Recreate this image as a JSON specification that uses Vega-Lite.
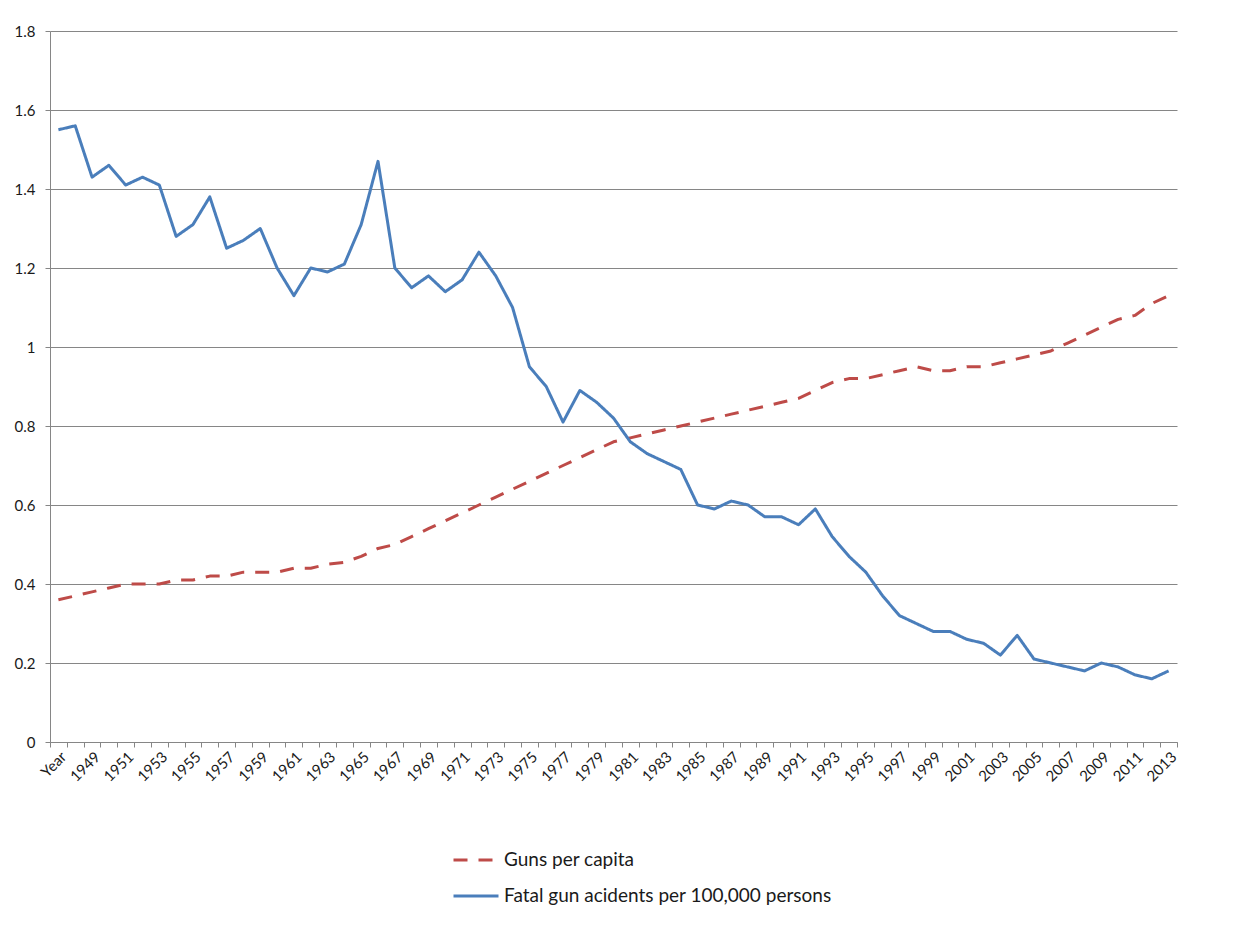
{
  "$schema": "https://vega.github.io/schema/vega-lite/v6.json",
  "autosize": "none",
  "width": 1127,
  "height": 711,
  "padding": {"left": 50, "top": 31, "right": 62, "bottom": 193},
  "background": "white",
  "config": {
    "view": {"stroke": null},
    "font": "Lato",
    "axis": {"labelFont": "Lato", "labelColor": "#1a1a1a"},
    "legend": {"labelFont": "Lato"}
  },
  "data": {
    "values": [
      {"year": "Year", "guns": 0.36, "fatal": 1.55},
      {"year": "1948", "guns": 0.37, "fatal": 1.56},
      {"year": "1949", "guns": 0.38, "fatal": 1.43},
      {"year": "1950", "guns": 0.39, "fatal": 1.46},
      {"year": "1951", "guns": 0.40, "fatal": 1.41},
      {"year": "1952", "guns": 0.40, "fatal": 1.43},
      {"year": "1953", "guns": 0.40, "fatal": 1.41},
      {"year": "1954", "guns": 0.41, "fatal": 1.28},
      {"year": "1955", "guns": 0.41, "fatal": 1.31},
      {"year": "1956", "guns": 0.42, "fatal": 1.38},
      {"year": "1957", "guns": 0.42, "fatal": 1.25},
      {"year": "1958", "guns": 0.43, "fatal": 1.27},
      {"year": "1959", "guns": 0.43, "fatal": 1.30},
      {"year": "1960", "guns": 0.43, "fatal": 1.20},
      {"year": "1961", "guns": 0.44, "fatal": 1.13},
      {"year": "1962", "guns": 0.44, "fatal": 1.20},
      {"year": "1963", "guns": 0.45, "fatal": 1.19},
      {"year": "1964", "guns": 0.455, "fatal": 1.21},
      {"year": "1965", "guns": 0.47, "fatal": 1.31},
      {"year": "1966", "guns": 0.49, "fatal": 1.47},
      {"year": "1967", "guns": 0.50, "fatal": 1.20},
      {"year": "1968", "guns": 0.52, "fatal": 1.15},
      {"year": "1969", "guns": 0.54, "fatal": 1.18},
      {"year": "1970", "guns": 0.56, "fatal": 1.14},
      {"year": "1971", "guns": 0.58, "fatal": 1.17},
      {"year": "1972", "guns": 0.60, "fatal": 1.24},
      {"year": "1973", "guns": 0.62, "fatal": 1.18},
      {"year": "1974", "guns": 0.64, "fatal": 1.10},
      {"year": "1975", "guns": 0.66, "fatal": 0.95},
      {"year": "1976", "guns": 0.68, "fatal": 0.90},
      {"year": "1977", "guns": 0.70, "fatal": 0.81},
      {"year": "1978", "guns": 0.72, "fatal": 0.89},
      {"year": "1979", "guns": 0.74, "fatal": 0.86},
      {"year": "1980", "guns": 0.76, "fatal": 0.82},
      {"year": "1981", "guns": 0.77, "fatal": 0.76},
      {"year": "1982", "guns": 0.78, "fatal": 0.73},
      {"year": "1983", "guns": 0.79, "fatal": 0.71},
      {"year": "1984", "guns": 0.80, "fatal": 0.69},
      {"year": "1985", "guns": 0.81, "fatal": 0.60},
      {"year": "1986", "guns": 0.82, "fatal": 0.59},
      {"year": "1987", "guns": 0.83, "fatal": 0.61},
      {"year": "1988", "guns": 0.84, "fatal": 0.60},
      {"year": "1989", "guns": 0.85, "fatal": 0.57},
      {"year": "1990", "guns": 0.86, "fatal": 0.57},
      {"year": "1991", "guns": 0.87, "fatal": 0.55},
      {"year": "1992", "guns": 0.89, "fatal": 0.59},
      {"year": "1993", "guns": 0.91, "fatal": 0.52},
      {"year": "1994", "guns": 0.92, "fatal": 0.47},
      {"year": "1995", "guns": 0.92, "fatal": 0.43},
      {"year": "1996", "guns": 0.93, "fatal": 0.37},
      {"year": "1997", "guns": 0.94, "fatal": 0.32},
      {"year": "1998", "guns": 0.95, "fatal": 0.30},
      {"year": "1999", "guns": 0.94, "fatal": 0.28},
      {"year": "2000", "guns": 0.94, "fatal": 0.28},
      {"year": "2001", "guns": 0.95, "fatal": 0.26},
      {"year": "2002", "guns": 0.95, "fatal": 0.25},
      {"year": "2003", "guns": 0.96, "fatal": 0.22},
      {"year": "2004", "guns": 0.97, "fatal": 0.27},
      {"year": "2005", "guns": 0.98, "fatal": 0.21},
      {"year": "2006", "guns": 0.99, "fatal": 0.20},
      {"year": "2007", "guns": 1.01, "fatal": 0.19},
      {"year": "2008", "guns": 1.03, "fatal": 0.18},
      {"year": "2009", "guns": 1.05, "fatal": 0.20},
      {"year": "2010", "guns": 1.07, "fatal": 0.19},
      {"year": "2011", "guns": 1.08, "fatal": 0.17},
      {"year": "2012", "guns": 1.11, "fatal": 0.16},
      {"year": "2013", "guns": 1.13, "fatal": 0.18}
    ]
  },
  "transform": [
    {"fold": ["guns", "fatal"], "as": ["series", "value"]}
  ],
  "mark": {"type": "line", "strokeWidth": 3, "strokeJoin": "round"},
  "encoding": {
    "x": {
      "field": "year",
      "type": "nominal",
      "sort": null,
      "bandPosition": 0.5,
      "scale": {"type": "band", "paddingInner": 0, "paddingOuter": 0},
      "axis": {
        "title": null,
        "labelAngle": -45,
        "labelFontSize": 15,
        "labelOverlap": false,
        "labelExpr": "datum.value == 'Year' || toNumber(datum.value) % 2 == 1 ? datum.label : ''",
        "tickBand": "extent",
        "tickSize": 5,
        "tickColor": "#868686",
        "domainColor": "#868686",
        "labelPadding": 2,
        "grid": false
      }
    },
    "y": {
      "field": "value",
      "type": "quantitative",
      "scale": {"domain": [0, 1.8], "nice": false},
      "axis": {
        "title": null,
        "values": [0, 0.2, 0.4, 0.6, 0.8, 1, 1.2, 1.4, 1.6, 1.8],
        "format": "~g",
        "labelFontSize": 15,
        "tickSize": 5,
        "tickColor": "#868686",
        "domainColor": "#868686",
        "gridColor": "#868686",
        "gridWidth": 1,
        "labelPadding": 10
      }
    },
    "color": {
      "field": "series",
      "type": "nominal",
      "scale": {"domain": ["guns", "fatal"], "range": ["#BE4B48", "#4A7EBB"]},
      "legend": {
        "title": null,
        "orient": "none",
        "legendX": 402,
        "legendY": 805,
        "labelExpr": "datum.value == 'guns' ? 'Guns per capita' : 'Fatal gun acidents per 100,000 persons'",
        "labelFontSize": 19,
        "labelLimit": 0,
        "labelColor": "#1a1a1a",
        "symbolType": "stroke",
        "symbolSize": 2025,
        "symbolStrokeWidth": 3,
        "rowPadding": 2
      }
    },
    "strokeDash": {
      "field": "series",
      "type": "nominal",
      "scale": {"domain": ["guns", "fatal"], "range": [[14, 11], [1, 0]]},
      "legend": null
    }
  }
}
